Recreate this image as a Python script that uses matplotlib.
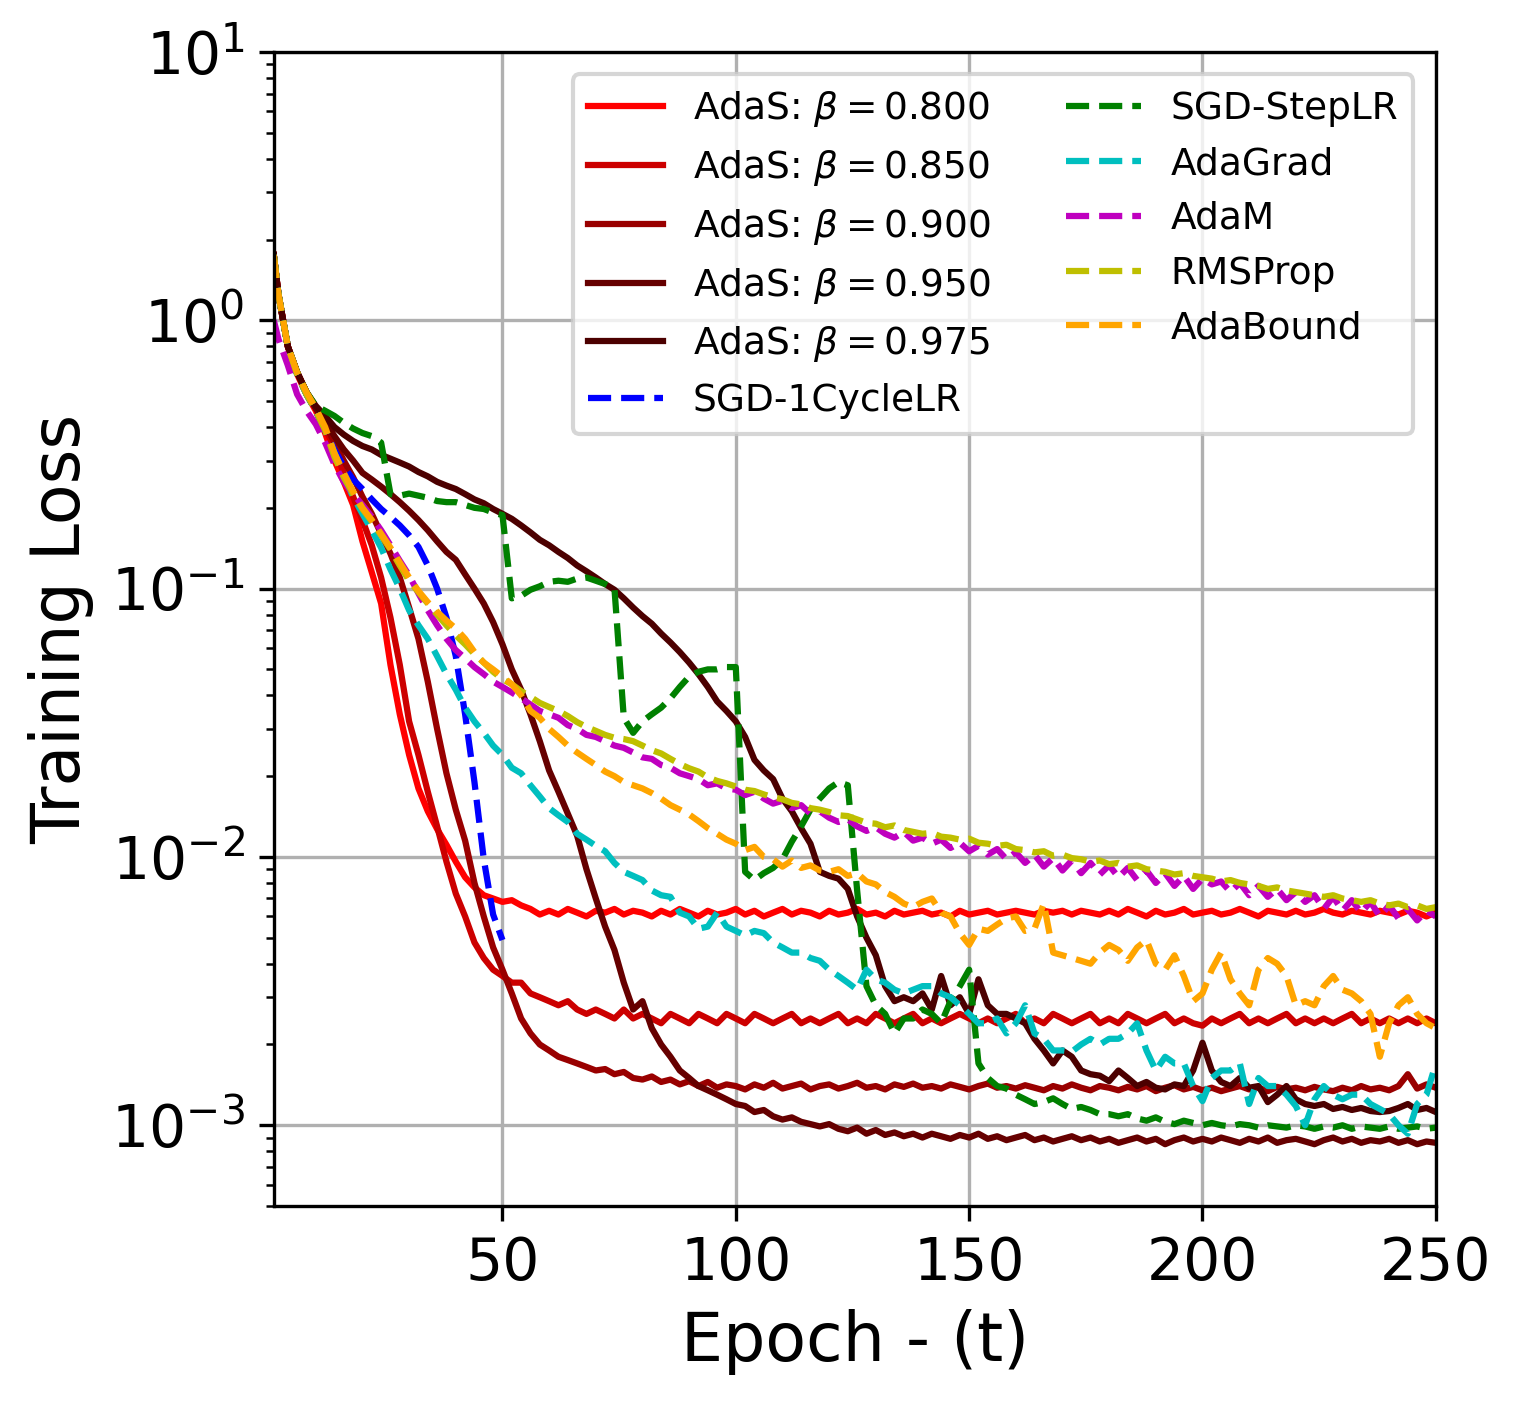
import matplotlib

matplotlib.use("Agg")
import matplotlib.pyplot as plt

# epochs sampled every 2 epochs (plus the first one)
EPOCHS = [1] + list(range(2, 251, 2))
ONECYCLE_EPOCHS = [1] + list(range(2, 51, 2))

ADAS_0800 = [
    1.75, 1.25, 0.80, 0.63, 0.53, 0.46, 0.38, 0.30, 0.25, 0.205,
    0.150, 0.115, 0.088, 0.052, 0.034, 0.024, 0.018, 0.0148, 0.0127, 0.0111,
    0.0096, 0.0084, 0.0077, 0.0072, 0.0070, 0.0068, 0.0069, 0.0066, 0.0064, 0.0061,
    0.0063, 0.0061, 0.0064, 0.0062, 0.0060, 0.0063, 0.0062, 0.0064, 0.0061, 0.0063,
    0.0062, 0.0060, 0.0063, 0.0061, 0.0064, 0.0062, 0.0060, 0.0063, 0.0061, 0.0062,
    0.0064, 0.0061, 0.0063, 0.0060, 0.0062, 0.0064, 0.0061, 0.0063, 0.0062, 0.0060,
    0.0063, 0.0061, 0.0062, 0.0064, 0.0061, 0.0062, 0.0060, 0.0063, 0.0061, 0.0062,
    0.0063, 0.0061, 0.0062, 0.0060, 0.0063, 0.0061, 0.0062, 0.0063, 0.0061, 0.0062,
    0.0063, 0.0062, 0.0061, 0.0063, 0.0062, 0.0063, 0.0061, 0.0063, 0.0062, 0.0061,
    0.0063, 0.0061, 0.0064, 0.0062, 0.0060, 0.0063, 0.0061, 0.0062, 0.0064, 0.0061,
    0.0062, 0.0063, 0.0061, 0.0062, 0.0064, 0.0062, 0.0060, 0.0063, 0.0062, 0.0061,
    0.0063, 0.0061, 0.0062, 0.0064, 0.0062, 0.0061, 0.0063, 0.0062, 0.0061, 0.0063,
    0.0062, 0.0061, 0.0063, 0.0062, 0.0060, 0.0062,
]

ADAS_0850 = [
    1.75, 1.25, 0.80, 0.64, 0.54, 0.47, 0.40, 0.33, 0.27, 0.22,
    0.18, 0.145, 0.110, 0.078, 0.052, 0.032, 0.024, 0.0175, 0.0130, 0.0096,
    0.0073, 0.0060, 0.0048, 0.0042, 0.0038, 0.0036, 0.0034, 0.0034, 0.0031, 0.0030,
    0.0029, 0.0028, 0.0029, 0.0027, 0.0026, 0.0027, 0.0026, 0.0025, 0.0027, 0.0025,
    0.0026, 0.0025, 0.0024, 0.0026, 0.0025, 0.0024, 0.0026, 0.0025, 0.0024, 0.0026,
    0.0025, 0.0024, 0.0026, 0.0025, 0.0024, 0.0025, 0.0026, 0.0024, 0.0025, 0.0024,
    0.0025, 0.0026, 0.0024, 0.0025, 0.0024, 0.0026, 0.0025, 0.0024, 0.0025, 0.0026,
    0.0024, 0.0025, 0.0024, 0.0025, 0.0026, 0.0025, 0.0024, 0.0025, 0.0024, 0.0025,
    0.0026, 0.0024, 0.0025, 0.0024, 0.0026, 0.0025, 0.0024, 0.0025, 0.0026, 0.0024,
    0.0025, 0.0024, 0.0026, 0.0025, 0.0024, 0.0025, 0.0026, 0.0024, 0.0025, 0.0024,
    0.00235, 0.0025, 0.0024, 0.0025, 0.0026, 0.0024, 0.0025, 0.0024, 0.0025, 0.0026,
    0.0024, 0.0025, 0.0024, 0.0025, 0.0024, 0.0025, 0.0026, 0.0024, 0.0025, 0.0024,
    0.0025, 0.0024, 0.0025, 0.0024, 0.0025, 0.0024,
]

ADAS_0900 = [
    1.75, 1.25, 0.80, 0.64, 0.54, 0.47, 0.41, 0.35, 0.30, 0.26,
    0.22, 0.19, 0.16, 0.135, 0.110, 0.085, 0.065, 0.045, 0.030, 0.0205,
    0.0150, 0.0115, 0.0080, 0.0060, 0.0046, 0.0038, 0.0031, 0.0025, 0.0022, 0.0020,
    0.0019, 0.0018, 0.00175, 0.0017, 0.00165, 0.0016, 0.00162, 0.00155, 0.00158, 0.0015,
    0.00148, 0.00152, 0.00145, 0.00148, 0.00142, 0.00146, 0.0014, 0.00145, 0.00138, 0.00142,
    0.0014, 0.00136, 0.00142, 0.00138, 0.00144, 0.00137, 0.0014, 0.00143, 0.00136, 0.0014,
    0.00142, 0.00137, 0.0014, 0.00144, 0.00138, 0.0014, 0.00136, 0.00142, 0.00139, 0.00143,
    0.00138, 0.0014, 0.00137, 0.00142, 0.00139, 0.00136, 0.0014, 0.00143, 0.00138, 0.0014,
    0.00137, 0.00141, 0.00138, 0.00135, 0.0014, 0.00137, 0.00142, 0.00138, 0.00135, 0.0014,
    0.00138, 0.00135, 0.00139, 0.00136, 0.0014, 0.00134, 0.00138, 0.00141, 0.00136, 0.00139,
    0.00135, 0.00138, 0.00134, 0.00137, 0.0014, 0.00136, 0.00138, 0.00134, 0.00139, 0.00136,
    0.00138, 0.00135, 0.00139, 0.00136, 0.00134, 0.00138, 0.00135, 0.0014, 0.00136, 0.00138,
    0.00135, 0.0014, 0.00155, 0.00137, 0.00142, 0.00138,
]

ADAS_0950 = [
    1.75, 1.25, 0.80, 0.64, 0.54, 0.47, 0.42, 0.37, 0.33, 0.30,
    0.27, 0.255, 0.24, 0.225, 0.21, 0.195, 0.18, 0.165, 0.15, 0.137,
    0.128, 0.113, 0.100, 0.088, 0.075, 0.062, 0.050, 0.042, 0.034, 0.027,
    0.021, 0.0175, 0.0145, 0.012, 0.0090, 0.0070, 0.0055, 0.0045, 0.0034, 0.0027,
    0.0029, 0.0023, 0.0020, 0.0018, 0.0016, 0.0015, 0.0014, 0.00135, 0.0013, 0.00125,
    0.0012, 0.00118, 0.00112, 0.00114, 0.00108, 0.00105, 0.00107, 0.00103, 0.00101, 0.00099,
    0.00101, 0.00097, 0.00095, 0.00098, 0.00093, 0.00096, 0.00092, 0.00094, 0.00091, 0.00093,
    0.0009, 0.00093, 0.00091, 0.00089, 0.00092, 0.0009, 0.00093, 0.00089, 0.00091, 0.00088,
    0.0009, 0.00092, 0.00088, 0.0009, 0.00087, 0.00089, 0.00091, 0.00088, 0.0009, 0.00087,
    0.00089, 0.00086, 0.00088, 0.0009, 0.00087, 0.00089, 0.00085, 0.00088, 0.0009, 0.00087,
    0.00089, 0.00087, 0.0009, 0.00088, 0.00086, 0.00089, 0.00087, 0.0009, 0.00086, 0.00088,
    0.00089, 0.00087, 0.00085, 0.00088, 0.0009, 0.00087, 0.00089, 0.00086, 0.00088, 0.00087,
    0.00089, 0.00086, 0.00088, 0.00085, 0.00087, 0.00086,
]

ADAS_0975 = [
    1.75, 1.25, 0.80, 0.64, 0.54, 0.48, 0.44, 0.40, 0.375, 0.355,
    0.34, 0.33, 0.315, 0.305, 0.295, 0.285, 0.272, 0.262, 0.25, 0.242,
    0.235, 0.225, 0.215, 0.208, 0.198, 0.19, 0.182, 0.172, 0.162, 0.152,
    0.145, 0.137, 0.13, 0.122, 0.116, 0.110, 0.104, 0.099, 0.092, 0.085,
    0.079, 0.074, 0.068, 0.063, 0.058, 0.053, 0.048, 0.043, 0.038, 0.035,
    0.032, 0.028, 0.023, 0.021, 0.0195, 0.0165, 0.0148, 0.0128, 0.0112, 0.0088,
    0.0085, 0.0083, 0.0076, 0.0060, 0.0050, 0.0043, 0.0033, 0.0029, 0.0030, 0.0029,
    0.0031, 0.0027, 0.0036, 0.0028, 0.0030, 0.0026, 0.0035, 0.0028, 0.0026, 0.0026,
    0.0025, 0.0024, 0.0021, 0.0019, 0.0017, 0.0019, 0.0018, 0.0016, 0.00155, 0.00153,
    0.00146, 0.0016, 0.0015, 0.0014, 0.00145, 0.00138, 0.00136, 0.00142, 0.0014, 0.0016,
    0.00203, 0.0016, 0.00145, 0.0014, 0.0015, 0.00138, 0.0014, 0.00122, 0.0013, 0.0014,
    0.00125, 0.0012, 0.00118, 0.0012, 0.00115, 0.00117, 0.00114, 0.00116, 0.00113, 0.00112,
    0.00113, 0.00116, 0.0012, 0.00114, 0.00116, 0.00112,
]

SGD_ONECYCLE = [
    1.75, 1.25, 0.80, 0.63, 0.53, 0.46, 0.39, 0.33, 0.285, 0.255,
    0.235, 0.215, 0.198, 0.185, 0.172, 0.158, 0.143, 0.122, 0.100, 0.078,
    0.056, 0.034, 0.019, 0.0098, 0.0061, 0.0049,
]

SGD_STEP = [
    1.75, 1.25, 0.80, 0.64, 0.54, 0.48, 0.46, 0.44, 0.415, 0.395,
    0.38, 0.37, 0.35, 0.225, 0.222, 0.226, 0.222, 0.218, 0.212, 0.210,
    0.210, 0.205, 0.200, 0.198, 0.192, 0.188, 0.092, 0.094, 0.099, 0.102,
    0.106, 0.107, 0.106, 0.109, 0.110, 0.107, 0.104, 0.100, 0.033, 0.029,
    0.032, 0.034, 0.036, 0.039, 0.043, 0.047, 0.049, 0.050, 0.050, 0.051,
    0.051, 0.0088, 0.0082, 0.0087, 0.0091, 0.0098, 0.0114, 0.013, 0.015, 0.0165,
    0.018, 0.019, 0.0185, 0.0075, 0.0033, 0.0028, 0.0026, 0.0022, 0.0025, 0.0025,
    0.0027, 0.0026, 0.0024, 0.0029, 0.0033, 0.0038, 0.0017, 0.0015, 0.0014, 0.00137,
    0.0013, 0.00125, 0.0012, 0.00122, 0.00126, 0.0012, 0.00115, 0.00117, 0.00114, 0.0011,
    0.0011, 0.00108, 0.0011, 0.00106, 0.00104, 0.00107, 0.00103, 0.00101, 0.00104, 0.00102,
    0.001, 0.00102, 0.001, 0.00099, 0.00101, 0.001, 0.00098, 0.001, 0.00099, 0.00098,
    0.001, 0.00099, 0.00097, 0.00099, 0.00098, 0.001, 0.00097, 0.00099, 0.00098, 0.00097,
    0.00099, 0.00097, 0.00098, 0.00099, 0.00097, 0.00098,
]

ADAGRAD = [
    1.75, 1.25, 0.80, 0.63, 0.53, 0.46, 0.39, 0.32, 0.26, 0.22,
    0.19, 0.165, 0.142, 0.118, 0.100, 0.083, 0.073, 0.065, 0.056, 0.048,
    0.042, 0.036, 0.032, 0.029, 0.026, 0.024, 0.0215, 0.0205, 0.0185, 0.0168,
    0.0152, 0.0143, 0.0135, 0.0122, 0.0116, 0.0110, 0.0105, 0.0095, 0.0088, 0.0085,
    0.0082, 0.0075, 0.0072, 0.0071, 0.0062, 0.0060, 0.0054, 0.0055, 0.0062, 0.0055,
    0.0053, 0.0051, 0.0053, 0.0052, 0.0048, 0.0046, 0.0044, 0.0044, 0.0042, 0.0041,
    0.0038, 0.0036, 0.0034, 0.0032, 0.0038, 0.0035, 0.0034, 0.0032, 0.0031, 0.0032,
    0.0033, 0.0033, 0.0031, 0.0030, 0.0028, 0.0026, 0.0024, 0.0024, 0.0025, 0.0022,
    0.0024, 0.0028, 0.0022, 0.0021, 0.0019, 0.0019, 0.00188, 0.0020, 0.0021, 0.0020,
    0.0021, 0.0021, 0.0022, 0.0024, 0.0019, 0.0016, 0.0018, 0.0017, 0.0017, 0.0014,
    0.00123, 0.0015, 0.0016, 0.0016, 0.0017, 0.0012, 0.0015, 0.0014, 0.0014, 0.0013,
    0.00118, 0.0010, 0.00125, 0.0014, 0.0013, 0.00125, 0.0013, 0.0013, 0.0012, 0.00115,
    0.0011, 0.0010, 0.00093, 0.0012, 0.0013, 0.0017,
]

ADAM = [
    1.0, 0.85, 0.68, 0.53, 0.46, 0.41, 0.35, 0.29, 0.25, 0.225,
    0.205, 0.185, 0.165, 0.145, 0.127, 0.112, 0.096, 0.083, 0.073, 0.065,
    0.059, 0.055, 0.051, 0.048, 0.045, 0.043, 0.041, 0.039, 0.037, 0.035,
    0.034, 0.033, 0.031, 0.030, 0.0285, 0.028, 0.027, 0.026, 0.0255, 0.0245,
    0.0235, 0.0232, 0.022, 0.0215, 0.0205, 0.020, 0.0195, 0.0185, 0.0188, 0.018,
    0.0178, 0.017, 0.0175, 0.0165, 0.0158, 0.0162, 0.0152, 0.0156, 0.0145, 0.0148,
    0.014, 0.0135, 0.0138, 0.013, 0.0125, 0.0129, 0.0122, 0.0118, 0.0124, 0.0115,
    0.0118, 0.0112, 0.0116, 0.0108, 0.0113, 0.0105, 0.011, 0.0102, 0.0107, 0.0098,
    0.0104, 0.0095, 0.0102, 0.0092, 0.0099, 0.0089, 0.0097, 0.0087, 0.0095, 0.0086,
    0.0093, 0.0084, 0.0091, 0.0082, 0.0089, 0.0080, 0.0087, 0.0078, 0.0085, 0.0076,
    0.0083, 0.0079, 0.0081, 0.0074, 0.0080, 0.0072, 0.0078, 0.0071, 0.0076, 0.0069,
    0.0074, 0.0068, 0.0072, 0.0064, 0.0071, 0.0063, 0.0069, 0.0062, 0.0068, 0.0060,
    0.0066, 0.0059, 0.0064, 0.0058, 0.0063, 0.0060,
]

RMSPROP = [
    1.75, 1.25, 0.80, 0.63, 0.53, 0.46, 0.39, 0.31, 0.26, 0.225,
    0.198, 0.178, 0.158, 0.14, 0.122, 0.107, 0.097, 0.088, 0.080, 0.073,
    0.067, 0.062, 0.057, 0.053, 0.049, 0.046, 0.044, 0.0415, 0.0395, 0.0375,
    0.0362, 0.035, 0.0335, 0.0318, 0.0305, 0.0295, 0.0285, 0.0278, 0.0275, 0.027,
    0.026, 0.025, 0.0243, 0.0232, 0.0222, 0.0214, 0.0208, 0.0198, 0.0192, 0.0188,
    0.0183, 0.0178, 0.0176, 0.0171, 0.0167, 0.0164, 0.0159, 0.0157, 0.0152, 0.015,
    0.0147, 0.0143, 0.0142, 0.0138, 0.0134, 0.0133, 0.0129, 0.0131, 0.0126, 0.0124,
    0.0122, 0.0123, 0.0119, 0.0118, 0.0116, 0.0117, 0.0113, 0.0112, 0.0110, 0.0111,
    0.0107, 0.0106, 0.0104, 0.0105, 0.0101, 0.0102, 0.0099, 0.0098, 0.0096, 0.0097,
    0.0094, 0.0095, 0.0092, 0.0093, 0.0090, 0.0089, 0.0088, 0.0086, 0.0087, 0.0085,
    0.0084, 0.0083, 0.0081, 0.0082, 0.0080, 0.0079, 0.0078, 0.0076, 0.0077, 0.0075,
    0.0074, 0.0073, 0.0072, 0.0071, 0.0072, 0.0070, 0.0069, 0.0068, 0.0069, 0.0067,
    0.0066, 0.0067, 0.0065, 0.0066, 0.0064, 0.0065,
]

ADABOUND = [
    1.75, 1.25, 0.80, 0.64, 0.54, 0.47, 0.40, 0.32, 0.27, 0.23,
    0.20, 0.18, 0.16, 0.142, 0.125, 0.11, 0.098, 0.089, 0.082, 0.076,
    0.071, 0.065, 0.058, 0.053, 0.050, 0.047, 0.044, 0.040, 0.035, 0.033,
    0.030, 0.028, 0.026, 0.0245, 0.0232, 0.022, 0.0208, 0.020, 0.019, 0.0185,
    0.018, 0.0173, 0.0165, 0.0156, 0.015, 0.0144, 0.0136, 0.0128, 0.0122, 0.0116,
    0.0112, 0.0106, 0.0109, 0.0100, 0.0098, 0.0092, 0.0097, 0.0091, 0.0093, 0.0089,
    0.0088, 0.0090, 0.0085, 0.0087, 0.0081, 0.0079, 0.0074, 0.0071, 0.0067, 0.0065,
    0.0068, 0.0070, 0.0062, 0.0060, 0.0052, 0.0047, 0.0054, 0.0053, 0.0056, 0.0059,
    0.0060, 0.0053, 0.0054, 0.0067, 0.0044, 0.0043, 0.0042, 0.0041, 0.0040, 0.0044,
    0.0047, 0.0045, 0.0041, 0.0046, 0.0049, 0.0040, 0.0038, 0.0043, 0.0036, 0.0029,
    0.0031, 0.0038, 0.0044, 0.0035, 0.0031, 0.0028, 0.0038, 0.0042, 0.0040, 0.0036,
    0.0028, 0.0029, 0.0028, 0.0033, 0.0036, 0.0032, 0.0031, 0.0029, 0.0026, 0.0018,
    0.0024, 0.0028, 0.0030, 0.0026, 0.0024, 0.0023,
]


def main() -> None:
    fig = plt.figure(figsize=(1521 / 300, 1404 / 300), dpi=300)
    ax = fig.add_axes([0.180, 0.141, 0.764, 0.822])

    adas_runs = [
        ("0.800", ADAS_0800, "#ff0000"),
        ("0.850", ADAS_0850, "#cc0000"),
        ("0.900", ADAS_0900, "#990000"),
        ("0.950", ADAS_0950, "#660000"),
        ("0.975", ADAS_0975, "#4c0000"),
    ]
    for beta, values, color in adas_runs:
        ax.plot(EPOCHS, values, color=color, linewidth=1.5,
                label=rf"AdaS: $\beta={beta}$")

    ax.plot(ONECYCLE_EPOCHS, SGD_ONECYCLE, "b--", linewidth=1.5, label="SGD-1CycleLR")
    ax.plot(EPOCHS, SGD_STEP, "g--", linewidth=1.5, label="SGD-StepLR")
    ax.plot(EPOCHS, ADAGRAD, "c--", linewidth=1.5, label="AdaGrad")
    ax.plot(EPOCHS, ADAM, "m--", linewidth=1.5, label="AdaM")
    ax.plot(EPOCHS, RMSPROP, "y--", linewidth=1.5, label="RMSProp")
    ax.plot(EPOCHS, ADABOUND, "--", color="orange", linewidth=1.5, label="AdaBound")

    ax.set_yscale("log")
    ax.set_xlim(1, 250)
    ax.set_ylim(5e-4, 10)
    ax.set_xticks([50, 100, 150, 200, 250])
    ax.tick_params(axis="both", which="major", labelsize=14)
    ax.grid(True)
    ax.set_xlabel("Epoch - (t)", fontsize=16)
    ax.set_ylabel("Training Loss", fontsize=16)
    ax.legend(loc="upper right", ncol=2, fontsize=9, borderaxespad=0.6)

    fig.savefig("out.png", dpi=300)
    plt.close(fig)


if __name__ == "__main__":
    main()
